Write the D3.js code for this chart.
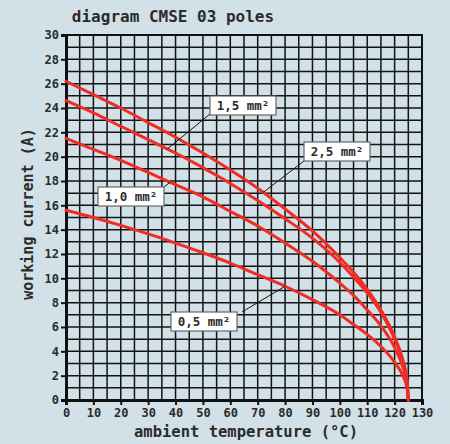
<!DOCTYPE html>
<html><head><meta charset="utf-8">
<script src="https://cdn.jsdelivr.net/npm/d3@7/dist/d3.min.js"></script>
<style>
html,body{margin:0;padding:0;background:#d2e0e8;}
svg{display:block;}
text{font-family:"DejaVu Sans Mono",monospace;font-weight:bold;fill:#2b2b2b;}
</style></head>
<body>
<svg id="c" width="450" height="444"></svg>
<script>
const title = "diagram CMSE 03 poles";
const xTitle = "ambient temperature (°C)";
const yTitle = "working current (A)";
const xTicks = [0,10,20,30,40,50,60,70,80,90,100,110,120,130];
const yTicks = [0,2,4,6,8,10,12,14,16,18,20,22,24,26,28,30];
const temps = [0,10,20,30,40,50,60,70,80,90,100,105,110,115,120,123,124.5,125];
const s25 = [26.2,25.1,24.0,22.8,21.6,20.3,18.9,17.4,15.7,13.9,11.7,10.5,9.1,7.4,5.2,3.3,1.7,0];
const s15 = [24.6,23.6,22.5,21.4,20.3,19.1,17.8,16.4,14.9,13.3,11.3,10.1,8.8,7.2,5.0,3.2,1.6,0];
const s10 = [21.5,20.6,19.7,18.7,17.7,16.7,15.5,14.3,12.9,11.4,9.6,8.6,7.4,6.1,4.3,2.7,1.4,0];
const s05 = [15.6,15.0,14.35,13.65,12.9,12.1,11.25,10.3,9.35,8.25,7.0,6.2,5.4,4.4,3.1,2.0,1.0,0];
const seriesNames = ["2,5 mm²","1,5 mm²","1,0 mm²","0,5 mm²"];
const seriesVals = [s25,s15,s10,s05];

const svg = d3.select("#c");
const x = d3.scaleLinear().domain([0,130]).range([66,422]);
const y = d3.scaleLinear().domain([0,30]).range([400,35]);

// grid
const g = svg.append("g");
g.selectAll("line.v").data(d3.range(0,131,5)).join("line")
  .attr("x1",d=>x(d)).attr("x2",d=>x(d)).attr("y1",y(0)).attr("y2",y(30))
  .attr("stroke","#141414").attr("stroke-width",1.5);
g.selectAll("line.h").data(d3.range(0,31,1)).join("line")
  .attr("y1",d=>y(d)).attr("y2",d=>y(d)).attr("x1",x(0)).attr("x2",x(130))
  .attr("stroke","#141414").attr("stroke-width",1.5);
// frame
svg.append("rect").attr("x",x(0)).attr("y",y(30)).attr("width",x(130)-x(0)).attr("height",y(0)-y(30))
  .attr("fill","none").attr("stroke","#111").attr("stroke-width",2);

// axes
const ax = svg.append("g").attr("transform",`translate(0,${y(0)})`)
  .call(d3.axisBottom(x).tickValues(xTicks).tickSize(5).tickPadding(3).tickFormat(d3.format("d")));
const ay = svg.append("g").attr("transform",`translate(${x(0)},0)`)
  .call(d3.axisLeft(y).tickValues(yTicks).tickSize(5).tickPadding(2).tickFormat(d3.format("d")));
[ax,ay].forEach(a=>{
  a.select(".domain").attr("stroke","#111").attr("stroke-width",3);
  a.selectAll(".tick line").attr("stroke","#111").attr("stroke-width",2);
  a.selectAll("text").attr("font-size",12).attr("fill","#2b2b2b")
   .style("font-family","'DejaVu Sans Mono',monospace").style("font-weight","bold");
});

// curves
const line = d3.line().x((d,i)=>x(temps[i])).y(d=>y(d)).curve(d3.curveMonotoneX);
svg.append("g").selectAll("path").data(seriesVals).join("path")
  .attr("d",line).attr("fill","none").attr("stroke","#ef2d24").attr("stroke-width",3)
  .attr("stroke-linecap","round");

// labels
const labels = [
  {i:1, bx:210, by:96, cx:210, cy:114, t:37},
  {i:0, bx:304, by:142, cx:304, cy:161, t:72},
  {i:2, bx:98, by:187, cx:164, cy:187, t:38},
  {i:3, bx:171, by:312, cx:242, cy:312, t:80}
];
function valAt(vals,t){
  return d3.scaleLinear().domain(temps).range(vals)(t);
}
const lg = svg.append("g");
labels.forEach(l=>{
  const v = valAt(seriesVals[l.i], l.t);
  lg.append("line").attr("x1",l.cx).attr("y1",l.cy).attr("x2",x(l.t)).attr("y2",y(v))
    .attr("stroke","#111").attr("stroke-width",1);
  lg.append("rect").attr("x",l.bx).attr("y",l.by).attr("width",66).attr("height",19)
    .attr("fill","#fff").attr("stroke","#666").attr("stroke-width",1.2);
  lg.append("text").attr("x",l.bx+33).attr("y",l.by+14).attr("text-anchor","middle")
    .attr("font-size",12.5).text(seriesNames[l.i]);
});

// titles
svg.append("text").attr("x",173).attr("y",22).attr("text-anchor","middle").attr("font-size",16).text(title);
svg.append("text").attr("x",246).attr("y",437).attr("text-anchor","middle").attr("font-size",15.5).text(xTitle);
svg.append("text").attr("transform","translate(33,214) rotate(-90)").attr("text-anchor","middle").attr("font-size",15).text(yTitle);
</script>
</body></html>
